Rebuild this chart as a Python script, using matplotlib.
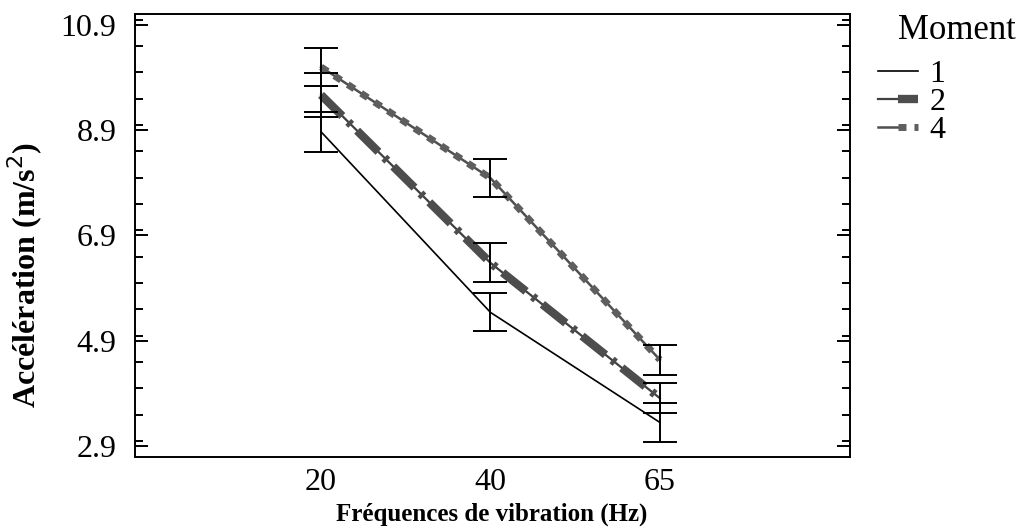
import numpy as np
import matplotlib.pyplot as plt
from matplotlib.legend_handler import HandlerTuple
from matplotlib.ticker import MultipleLocator

plt.rcParams['font.family'] = ['Liberation Serif', 'DejaVu Serif']

freqs = ['20', '40', '65']
moments = ['1', '2', '4']
acc = {
    '1': [8.87, 5.44, 3.35],
    '2': [9.57, 6.38, 3.81],
    '4': [10.10, 7.99, 4.54],
}
err = {
    '1': [0.38, 0.36, 0.37],
    '2': [0.42, 0.37, 0.29],
    '4': [0.36, 0.36, 0.28],
}

x = np.arange(len(freqs))

fig = plt.figure(figsize=(10.2, 5.31), dpi=100)
ax = fig.add_axes([0.132, 0.139, 0.701, 0.835])

handles = []
# moment 1: thin solid black
h1, = ax.plot(x, acc['1'], color='black', lw=1.2, zorder=3)
handles.append(h1)

# moment 2: thick dark grey long dashes over a thin line
base2, = ax.plot(x, acc['2'], color='#404040', lw=1.6, zorder=3)
top2, = ax.plot(x, acc['2'], color='#4d4d4d', lw=6, zorder=3,
                dashes=(3.6, 1.0, 0.5, 1.0), dash_capstyle='butt')
handles.append((base2, top2))

# moment 4: grey square beads on a thin line
base4, = ax.plot(x, acc['4'], color='#505050', lw=1.8, zorder=3)
top4, = ax.plot(x, acc['4'], color='#5e5e5e', lw=5, zorder=3,
                dashes=(1.15, 1.15), dash_capstyle='butt')
handles.append((base4, top4))

for m in moments:
    ax.errorbar(x, acc[m], yerr=err[m], fmt='none', ecolor='black',
                elinewidth=1.4, capsize=12, capthick=1.4, zorder=4)

ax.set_xlim(-1.1, 3.12)
ax.set_ylim(2.69, 11.11)
ax.set_xticks(x)
ax.set_xticklabels(freqs)
ax.set_yticks([2.9, 4.9, 6.9, 8.9, 10.9])
ax.set_yticklabels(['2.9', '4.9', '6.9', '8.9', '10.9'])
ax.yaxis.set_minor_locator(MultipleLocator(0.5))
ax.tick_params(axis='y', which='both', direction='in', left=True, right=True,
               labelsize=23, width=1.4, pad=13)
ax.tick_params(axis='y', which='major', length=9.5)
ax.tick_params(axis='y', which='minor', length=5.5)
ax.tick_params(axis='x', length=0, labelsize=23, pad=8)
for s in ax.spines.values():
    s.set_linewidth(1.4)

ax.set_ylabel('Accélération (m/s$^2$)', fontsize=23, fontweight='bold')
ax.yaxis.set_label_coords(-0.125, 0.41)
ax.set_xlabel('Fréquences de vibration (Hz)', fontsize=18, fontweight='bold', labelpad=4)

fig.text(898 / 1020, 1 - 31 / 531, 'Moment', ha='left', va='center', fontsize=25)
leg = fig.legend(handles, moments, loc='upper left',
                 bbox_to_anchor=(878 / 1020, 1 - 60 / 531), frameon=False,
                 fontsize=23, handlelength=1.25, handletextpad=0.37,
                 labelspacing=-0.05, borderpad=0, borderaxespad=0,
                 handler_map={tuple: HandlerTuple(ndivide=None, pad=0)})

fig.savefig('out.png', dpi=100)
